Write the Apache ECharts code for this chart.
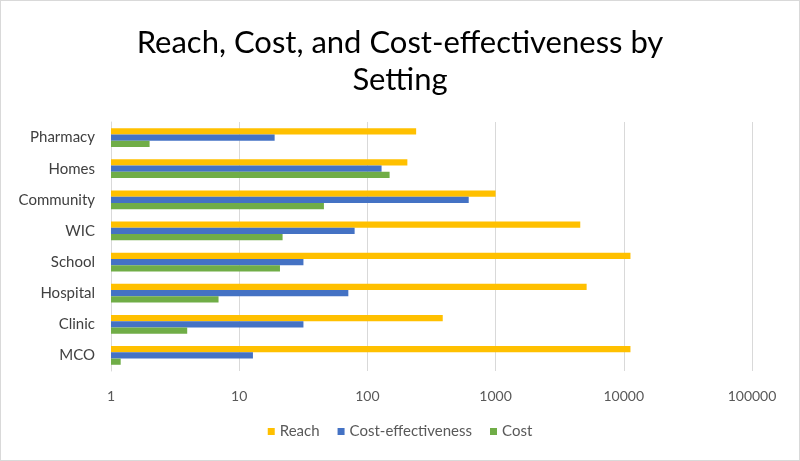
<!DOCTYPE html>
<html>
<head>
<meta charset="utf-8">
<script src="https://cdn.jsdelivr.net/npm/echarts@6/dist/echarts.min.js"></script>
<style>
html,body{margin:0;padding:0;background:#fff;}
#c{position:absolute;left:0;top:0;width:798px;height:459px;border:1px solid #d9d9d9;}
</style>
</head>
<body>
<div id="c"></div>
<script>
// categories listed bottom to top
const categories = ["MCO", "Clinic", "Hospital", "School", "WIC", "Community", "Homes", "Pharmacy"];
const reach = [11270, 387, 5130, 11270, 4575, 1000, 205, 240];
const costEffectiveness = [12.8, 31.7, 71, 31.7, 79.5, 617, 129, 18.9];
const cost = [1.19, 3.93, 6.9, 20.8, 21.8, 45.8, 149, 2.0];
const xTicks = [1, 10, 100, 1000, 10000, 100000];

const font = "Lato, 'Open Sans', sans-serif";
const chart = echarts.init(document.getElementById('c'), null, {renderer: 'canvas'});
chart.setOption({
  animation: false,
  title: {
    text: 'Reach, Cost, and Cost-effectiveness by\nSetting',
    left: 'center', top: 18,
    textStyle: {fontFamily: font, fontSize: 31, fontWeight: 'normal', color: '#000', lineHeight: 37}
  },
  legend: {
    data: ['Reach', 'Cost-effectiveness', 'Cost'],
    bottom: 16, left: 'center',
    itemWidth: 7, itemHeight: 7, itemGap: 18,
    icon: 'rect',
    textStyle: {fontFamily: font, fontSize: 15, color: '#595959'}
  },
  grid: {left: 110, right: 47, top: 121, bottom: 89, containLabel: false},
  xAxis: {
    type: 'log', logBase: 10, min: xTicks[0], max: xTicks[xTicks.length - 1],
    axisLine: {show: false}, axisTick: {show: false},
    splitLine: {show: true, lineStyle: {color: '#d9d9d9', width: 1}},
    axisLabel: {fontFamily: font, fontSize: 14, color: '#595959', margin: 18,
      formatter: v => String(Math.round(v))}
  },
  yAxis: {
    type: 'category', data: categories,
    axisLine: {show: true, lineStyle: {color: '#d9d9d9'}},
    axisTick: {show: false},
    axisLabel: {fontFamily: font, fontSize: 15, color: '#404040', margin: 16}
  },
  series: [
    {name: 'Reach', type: 'bar', data: reach, itemStyle: {color: '#ffc000'}, barGap: '0%', barCategoryGap: '40%'},
    {name: 'Cost-effectiveness', type: 'bar', data: costEffectiveness, itemStyle: {color: '#4472c4'}, barGap: '0%', barCategoryGap: '40%'},
    {name: 'Cost', type: 'bar', data: cost, itemStyle: {color: '#70ad47'}, barGap: '0%', barCategoryGap: '40%'}
  ]
});
</script>
</body>
</html>
